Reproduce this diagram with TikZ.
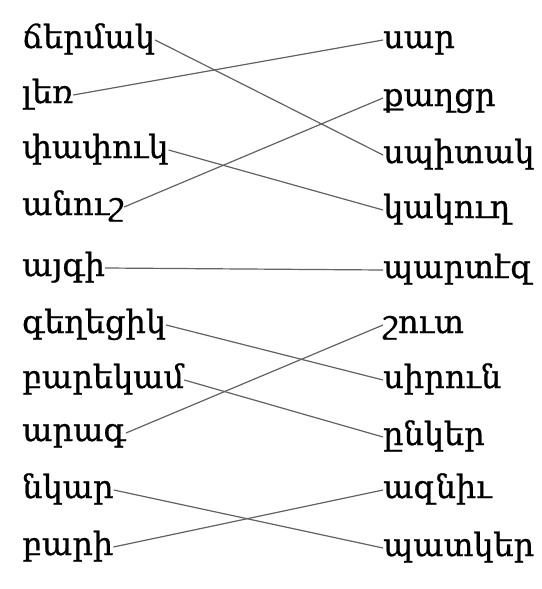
\documentclass[tikz,border=0pt]{standalone}
\usepackage{fontspec}
\usepackage{tikz}
\usetikzlibrary{calc}
\newfontfamily\armfont[Script=Armenian,FakeBold=0.8]{DejaVu Serif}
\definecolor{pencil}{HTML}{626262}

\begin{document}
\begin{tikzpicture}[x=1pt,y=-1pt,
  every node/.style={font=\armfont\fontsize{32}{36}\selectfont,inner sep=0pt},
  lw/.style={anchor=base west},
  rw/.style={anchor=base west},
  link/.style={draw=pencil,line width=1.2pt}]
\useasboundingbox[fill=white] (0,0) rectangle (541,589);
% left column
\node[lw] (l1)  at (22,48)  {ճերմակ};
\node[lw] (l2)  at (22,103) {լեռ};
\node[lw] (l3)  at (22,158) {փափուկ};
\node[lw] (l4)  at (22,215) {անուշ};
\node[lw] (l5)  at (22,276) {այգի};
\node[lw] (l6)  at (22,333) {գեղեցիկ};
\node[lw] (l7)  at (22,388) {բարեկամ};
\node[lw] (l8)  at (22,441) {արագ};
\node[lw] (l9)  at (22,498) {նկար};
\node[lw] (l10) at (22,555) {բարի};
% right column
\node[rw] (r1)  at (383,48)  {սար};
\node[rw] (r2)  at (383,106) {քաղցր};
\node[rw] (r3)  at (383,163) {սպիտակ};
\node[rw] (r4)  at (383,218) {կակուղ};
\node[rw] (r5)  at (383,278) {պարտէզ};
\node[rw] (r6)  at (383,333) {շուտ};
\node[rw] (r7)  at (383,388) {սիրուն};
\node[rw] (r8)  at (383,445) {ընկեր};
\node[rw] (r9)  at (383,498) {ազնիւ};
\node[rw] (r10) at (383,556) {պատկեր};
% pairs
\foreach \a/\b in {1/3,2/1,3/4,4/2,5/5,6/7,7/8,8/6,9/10,10/9}
  \draw[link] ([yshift=8pt]l\a.base east) -- ([yshift=8pt]r\b.base west);
\end{tikzpicture}
\end{document}
